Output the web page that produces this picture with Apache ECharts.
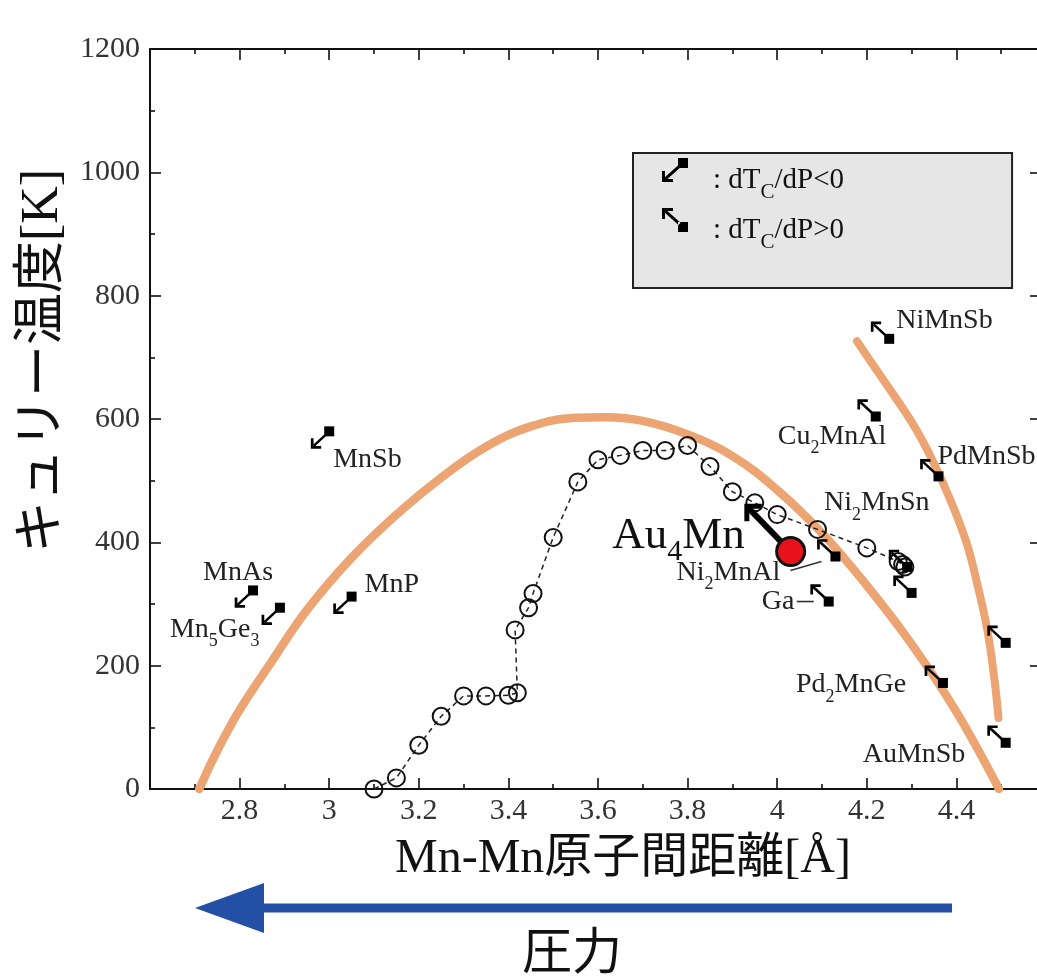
<!DOCTYPE html>
<html>
<head>
<meta charset="utf-8">
<script src="https://cdn.jsdelivr.net/npm/echarts@6/dist/echarts.min.js"></script>
<style>
  html, body { margin: 0; padding: 0; background: #fff; }
  #chart { width: 1037px; height: 979px; }
</style>
</head>
<body>
<div id="chart"></div>
<script>
// Curie temperature versus Mn-Mn interatomic distance

// Open circles joined by a dashed line
const circleDist = [3.1, 3.15, 3.2, 3.25, 3.3, 3.35, 3.4, 3.42, 3.415, 3.445, 3.455, 3.5, 3.555, 3.6, 3.65, 3.7, 3.75, 3.8, 3.85, 3.9, 3.95, 4.0, 4.09, 4.2, 4.27, 4.28, 4.285];
const circleTc   = [0, 18, 71, 118, 151, 151, 152, 156, 258, 294, 317, 408, 498, 534, 541, 549, 549, 557, 523, 482, 464, 445, 421, 391, 369, 364, 360];

// Broad orange guide curve
const guideMainDist = [2.71, 2.75, 2.8, 2.87, 2.95, 3.05, 3.15, 3.25, 3.35, 3.45, 3.55, 3.62, 3.7, 3.8, 3.9, 4.0, 4.1, 4.2, 4.3, 4.4, 4.495];
const guideMainTc   = [0, 62, 128, 205, 290, 375, 445, 505, 555, 588, 602, 603, 597, 575, 540, 485, 415, 330, 235, 125, 0];

// Short orange guide curve on the right
const guideRightDist = [4.178, 4.241, 4.301, 4.346, 4.391, 4.424, 4.447, 4.469, 4.485, 4.494];
const guideRightTc   = [726, 659, 594, 534, 461, 396, 331, 258, 177, 115];

// Compounds: position and sign of dTc/dP (-1: decreasing, +1: increasing)
const compoundLabels = ['MnSb', 'MnAs', 'Mn5Ge3', 'MnP', 'NiMnSb', 'Cu2MnAl', 'PdMnSb', 'Ni2MnAl', 'Ni2MnSn', '', 'Ga', 'Pd2MnGe', '', 'AuMnSb'];
const compoundDist   = [3.0, 2.83, 2.89, 3.05, 4.25, 4.22, 4.36, 4.13, 4.29, 4.3, 4.115, 4.37, 4.51, 4.51];
const compoundTc     = [580, 322, 294, 312, 730, 604, 507, 377, 360, 318, 304, 172, 237, 75];
const compoundSign   = [-1, -1, -1, -1, 1, 1, 1, 1, 1, 1, 1, 1, 1, 1];

// Au4Mn point and the direction of its shift
const au4mnLabel = 'Au4Mn';
const au4mnDist = [4.03];
const au4mnTc = [385];
const au4mnShiftDist = [3.93];
const au4mnShiftTc = [460];

// Legend entries
const legendNames = ['dTc/dP<0', 'dTc/dP>0'];

// ---- styling / placement (pixels) ----
const SERIF = "'Liberation Serif', 'Times New Roman', serif";
const MIXED = "'Liberation Serif', 'Noto Sans CJK JP', serif";
const CJK = "'Noto Sans CJK JP', sans-serif";
const TEXT = '#222';

// label left edge / vertical centre relative to the square
const labelOffset = {
  'MnSb': [4, 28], 'MnAs': [-50, -18], 'Mn5Ge3': [-110, 22], 'MnP': [13, -12],
  'NiMnSb': [7, -18], 'Cu2MnAl': [-98, 20], 'PdMnSb': [-1, -20], 'Ni2MnAl': [-159, 16],
  'Ni2MnSn': [-83, -64], 'Ga': [-67, 0], 'Pd2MnGe': [-147, 2], 'AuMnSb': [-143, 12]
};
// leader lines from a label to its square
const leaderOffset = {
  'Ni2MnAl': [[-45, 14], [-14, 5]],
  'Ga': [[-32, 0], [-15, 0]]
};

function toRich(s, main, sub) {
  return s.split(/(\d+)/).filter(Boolean)
    .map(t => /^\d+$/.test(t) ? '{' + sub + '|' + t + '}' : '{' + main + '|' + t + '}')
    .join('');
}

// main text: glyph centre sits (pad + lineHeight/2) below the block top
const labelRich = {
  n: { fontSize: 28, fontFamily: SERIF, lineHeight: 28, padding: [14, 0, 14, 0], verticalAlign: 'top', fill: TEXT },
  s: { fontSize: 18, fontFamily: SERIF, lineHeight: 18, padding: [31, 0, 0, 0], verticalAlign: 'top', fill: TEXT }
};
const LABEL_MID = 28;
const bigRich = {
  n: { fontSize: 45, fontFamily: SERIF, lineHeight: 45, padding: [18, 0, 18, 0], verticalAlign: 'top', fill: '#111' },
  s: { fontSize: 30, fontFamily: SERIF, lineHeight: 30, padding: [41, 0, 0, 0], verticalAlign: 'top', fill: '#111' }
};
const BIG_MID = 40.5;

function pairs(xs, ys) { return xs.map((x, i) => [x, ys[i]]); }

function compoundSeries(sign, name) {
  const idx = compoundSign.map((s, i) => i).filter(i => compoundSign[i] === sign);
  return {
    type: 'custom',
    name: name,
    coordinateSystem: 'cartesian2d',
    z: 4,
    itemStyle: { color: '#000' },
    data: idx.map(i => ({ name: compoundLabels[i], value: [compoundDist[i], compoundTc[i]] })),
    renderItem: function (params, api) {
      const i = idx[params.dataIndex];
      const p = api.coord([api.value(0), api.value(1)]);
      const cx = p[0], cy = p[1];
      const dir = sign < 0 ? 1 : -1;
      const tx = cx - 17, ty = cy + dir * 16;
      const children = [
        { type: 'line', shape: { x1: cx - 2, y1: cy + dir * 2, x2: tx + 1.5, y2: ty - dir * 1.5 },
          style: { stroke: '#000', lineWidth: 2.5 } },
        { type: 'polyline', shape: { points: [[tx, ty - dir * 9], [tx, ty], [tx + 9, ty]] },
          style: { stroke: '#000', fill: null, lineWidth: 2.7 } },
        { type: 'rect', shape: { x: cx - 5, y: cy - 5, width: 10, height: 10 }, style: { fill: '#000' } }
      ];
      const lab = compoundLabels[i];
      if (lab && labelOffset[lab]) {
        const o = labelOffset[lab];
        children.push({
          type: 'text',
          style: { x: cx + o[0], y: cy + o[1] - LABEL_MID, text: toRich(lab, 'n', 's'), rich: labelRich,
                   align: 'left', verticalAlign: 'top', fill: TEXT }
        });
      }
      if (lab && leaderOffset[lab]) {
        const l = leaderOffset[lab];
        children.push({ type: 'line', shape: { x1: cx + l[0][0], y1: cy + l[0][1], x2: cx + l[1][0], y2: cy + l[1][1] },
          style: { stroke: '#333', lineWidth: 1.6 } });
      }
      return { type: 'group', children: children };
    }
  };
}

const iconNeg = 'path://M16,0H26V10H16Z M0,24V13H3V21H11V24Z M1.5,20.5L16.5,7L18.5,9.2L3.5,22.7Z';
const iconPos = 'path://M16,14H26V24H16Z M0,0V11H3V3H11V0Z M1.5,3.5L16.5,17L18.5,14.8L3.5,1.3Z';

const axisLineStyle = { color: '#111', width: 2 };
const tickStyle = { color: '#111', width: 1.6 };
const tickFont = { fontSize: 30, fontFamily: SERIF, color: '#333' };

const chart = echarts.init(document.getElementById('chart'), null, { renderer: 'canvas' });
chart.setOption({
  animation: false,
  backgroundColor: '#fff',
  grid: { left: 150, top: 49, width: 896, height: 740, containLabel: false, outerBoundsMode: 'none' },
  legend: {
    data: [{ name: legendNames[0], icon: iconNeg }, { name: legendNames[1], icon: iconPos }],
    orient: 'vertical',
    left: 633, top: 153,
    itemWidth: 26, itemHeight: 24, itemGap: 1,
    padding: [2.5, 168, 33.5, 29],
    backgroundColor: '#e6e6e6',
    borderColor: '#222', borderWidth: 2,
    selectedMode: false,
    formatter: function (name) {
      const rest = name.replace('dTc', '');
      return '{c|:}{n| dT}{s|C}{n|' + rest + '}';
    },
    textStyle: {
      rich: {
        c: { fontSize: 29, fontFamily: SERIF, color: '#111', lineHeight: 29, padding: [10, 0, 10, 20], verticalAlign: 'top' },
        n: { fontSize: 29, fontFamily: SERIF, color: '#111', lineHeight: 29, padding: [10, 0, 10, 0], verticalAlign: 'top' },
        s: { fontSize: 21, fontFamily: SERIF, color: '#111', lineHeight: 21, padding: [26, 0, 0, 0], verticalAlign: 'top' }
      }
    }
  },
  xAxis: [
    {
      type: 'value', min: 2.6, max: 4.6, interval: 0.2, position: 'bottom',
      axisLine: { show: true, onZero: false, lineStyle: axisLineStyle },
      axisTick: { show: true, inside: true, length: 11, lineStyle: tickStyle },
      minorTick: { show: true, splitNumber: 2, length: 5, lineStyle: tickStyle },
      splitLine: { show: false }, minorSplitLine: { show: false },
      axisLabel: Object.assign({ showMinLabel: false, showMaxLabel: false, margin: 7, formatter: v => String(v) }, tickFont),
      name: 'Mn-Mn原子間距離[Å]', nameLocation: 'middle', nameGap: 46,
      nameTextStyle: { fontSize: 48, fontFamily: MIXED, color: '#111', padding: [0, 0, 0, 50] }
    },
    {
      type: 'value', min: 2.6, max: 4.6, interval: 0.2, position: 'top',
      axisLine: { show: true, onZero: false, lineStyle: axisLineStyle },
      axisTick: { show: true, inside: true, length: 11, lineStyle: tickStyle },
      minorTick: { show: true, splitNumber: 2, length: 5, lineStyle: tickStyle },
      splitLine: { show: false }, axisLabel: { show: false }
    }
  ],
  yAxis: [
    {
      type: 'value', min: 0, max: 1200, interval: 200, position: 'left',
      axisLine: { show: true, onZero: false, lineStyle: axisLineStyle },
      axisTick: { show: true, inside: true, length: 11, lineStyle: tickStyle },
      minorTick: { show: true, splitNumber: 2, length: 5, lineStyle: tickStyle },
      splitLine: { show: false }, minorSplitLine: { show: false },
      axisLabel: Object.assign({ margin: 10, formatter: v => String(v) }, tickFont),
      name: 'キュリー温度[K]', nameLocation: 'middle', nameGap: 64,
      nameTextStyle: { fontSize: 52, fontFamily: MIXED, color: '#111', padding: [0, 0, 0, 116] }
    },
    {
      type: 'value', min: 0, max: 1200, interval: 200, position: 'right',
      axisLine: { show: true, onZero: false, lineStyle: axisLineStyle },
      axisTick: { show: true, inside: true, length: 16, lineStyle: tickStyle },
      splitLine: { show: false }, axisLabel: { show: false }
    }
  ],
  series: [
    {
      type: 'line', name: 'guide', data: pairs(guideMainDist, guideMainTc),
      smooth: 0.4, showSymbol: false, silent: true, z: 1,
      lineStyle: { color: '#eca472', width: 8.5, cap: 'round' }
    },
    {
      type: 'line', name: 'guide2', data: pairs(guideRightDist, guideRightTc),
      smooth: 0.4, showSymbol: false, silent: true, z: 1,
      lineStyle: { color: '#eca472', width: 8, cap: 'round' }
    },
    {
      type: 'line', name: 'circles', data: pairs(circleDist, circleTc),
      symbol: 'circle', symbolSize: 17, z: 3,
      itemStyle: { color: 'rgba(0,0,0,0)', borderColor: '#111', borderWidth: 2 },
      lineStyle: { color: '#222', width: 1.5, type: [5, 4] }
    },
    compoundSeries(-1, legendNames[0]),
    compoundSeries(1, legendNames[1]),
    {
      type: 'custom', name: au4mnLabel, coordinateSystem: 'cartesian2d', z: 6,
      data: au4mnDist.map((d, i) => [d, au4mnTc[i], au4mnShiftDist[i], au4mnShiftTc[i]]),
      renderItem: function (params, api) {
        const p = api.coord([api.value(0), api.value(1)]);
        const q = api.coord([api.value(2), api.value(3)]);
        return {
          type: 'group',
          children: [
            { type: 'line', shape: { x1: p[0], y1: p[1], x2: q[0] + 3, y2: q[1] + 3 },
              style: { stroke: '#000', lineWidth: 6 } },
            { type: 'polyline', shape: { points: [[q[0] + 1, q[1] + 16], [q[0] + 1, q[1] + 1], [q[0] + 16, q[1] + 1]] },
              style: { stroke: '#000', fill: null, lineWidth: 5, lineJoin: 'miter' } },
            { type: 'circle', shape: { cx: p[0], cy: p[1], r: 14 },
              style: { fill: '#e8121b', stroke: '#111', lineWidth: 3 } },
            { type: 'text',
              style: { x: p[0] - 46, y: p[1] - 15 - BIG_MID, text: toRich(au4mnLabel, 'n', 's'), rich: bigRich,
                       align: 'right', verticalAlign: 'top', fill: '#111' } }
          ]
        };
      }
    }
  ],
  graphic: [
    {
      type: 'group', silent: true,
      children: [
        { type: 'rect', shape: { x: 256, y: 903.5, width: 696, height: 9 }, style: { fill: '#2350a5' } },
        { type: 'polygon', shape: { points: [[195, 908], [264, 883], [264, 933]] }, style: { fill: '#2350a5' } },
        { type: 'text', style: { x: 572, y: 950, text: '圧力', font: '50px ' + CJK, fill: '#111',
                                 align: 'center', verticalAlign: 'middle' } }
      ]
    }
  ]
});
</script>
</body>
</html>
